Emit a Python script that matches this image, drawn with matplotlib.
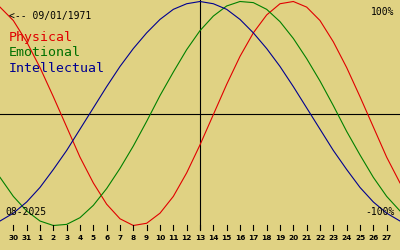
import matplotlib
matplotlib.use("Agg")
import matplotlib.pyplot as plt

# 日期偏移（相对于 13 号）
offsets = list(range(-15, 16))
# 三条曲线（-1 ~ 1），每天读一个点
physical = [0.95, 0.83, 0.64, 0.41, 0.15, -0.12, -0.39, -0.62, -0.81, -0.94, -1.00,
            -0.98, -0.89, -0.74, -0.53, -0.28, -0.01, 0.26, 0.51, 0.72, 0.88, 0.98,
            1.00, 0.95, 0.83, 0.64, 0.41, 0.15, -0.12, -0.39, -0.62]
emotional = [-0.57, -0.74, -0.87, -0.96, -1.00, -0.99, -0.93, -0.82, -0.67, -0.49, -0.29,
             -0.07, 0.16, 0.37, 0.57, 0.74, 0.87, 0.96, 1.00, 0.99, 0.93, 0.82,
             0.67, 0.49, 0.29, 0.07, -0.16, -0.37, -0.57, -0.74, -0.87]
intellectual = [-0.96, -0.89, -0.79, -0.66, -0.50, -0.33, -0.14, 0.05, 0.24, 0.42, 0.58,
                0.72, 0.84, 0.93, 0.98, 1.00, 0.98, 0.93, 0.84, 0.72, 0.58, 0.42,
                0.24, 0.05, -0.14, -0.33, -0.50, -0.66, -0.79, -0.89, -0.96]
# 刻度
tick_offsets = list(range(-14, 15))
tick_labels = ['30', '31'] + [str(i) for i in range(1, 28)]

bg = '#e0d283'
W, H = 400, 250
cy, amp = 113.5, 112.0   # 像素：中线位置和振幅

def py(v):
    # 像素 y -> 数据值
    return (cy - v) / amp

fig = plt.figure(figsize=(4, 2.5), dpi=100, facecolor=bg)
ax = fig.add_axes([0, 0, 1, 1], facecolor=bg)
ax.set_xlim(-15, 15)
ax.set_ylim(py(H), py(0))
ax.axis('off')

# 坐标轴线
ax.axhline(0, color='black', lw=0.8)
ax.plot([0, 0], [py(0), py(229)], color='black', lw=0.8)

ax.plot(offsets, physical, color='#e00000', lw=0.8)
ax.plot(offsets, emotional, color='#008000', lw=0.8)
ax.plot(offsets, intellectual, color='#000090', lw=0.8)

# 底部刻度
for t, lab in zip(tick_offsets, tick_labels):
    ax.plot([t, t], [py(225), py(230)], color='black', lw=0.8)
    ax.text(t, py(238), lab, ha='center', va='center', fontsize=5.3,
            fontweight='bold', family='DejaVu Sans')

def ftext(x, y, s, **kw):
    fig.text(x / W, 1 - y / H, s, va='center', family='DejaVu Sans Mono', **kw)

ftext(9, 16, '<-- 09/01/1971', fontsize=7)
ftext(9, 38, 'Physical', fontsize=9.5, color='#e00000')
ftext(9, 53, 'Emotional', fontsize=9.5, color='#007000')
ftext(9, 68, 'Intellectual', fontsize=9.5, color='#000090')
ftext(394, 12, '100%', fontsize=7, ha='right')
ftext(395, 212, '-100%', fontsize=7, ha='right')
ftext(5, 212, '08-2025', fontsize=7)

fig.savefig('out.png', dpi=100, facecolor=bg)
